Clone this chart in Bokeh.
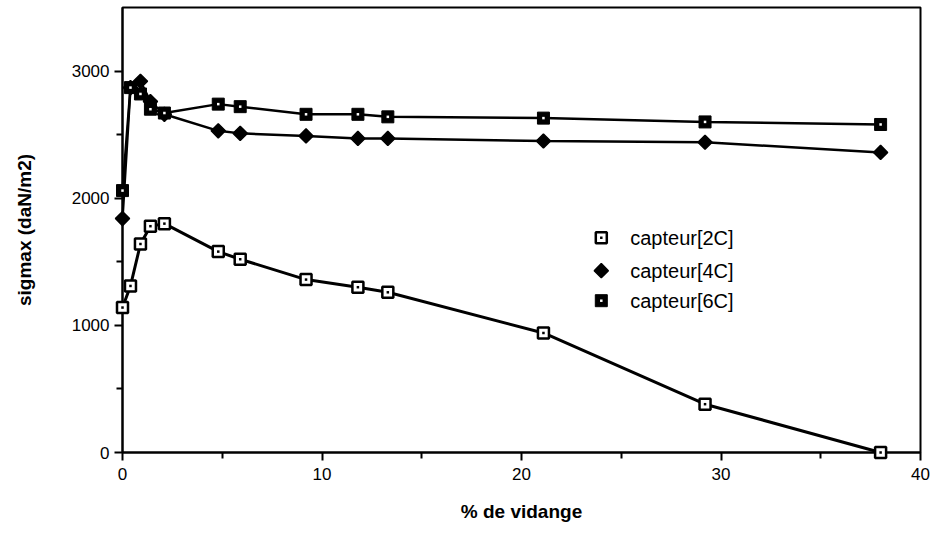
import math

from bokeh.plotting import figure
from bokeh.models import ColumnDataSource, Range1d, FixedTicker
from bokeh.core.properties import value
from bokeh.embed import file_html
from bokeh.resources import INLINE

# % of emptying (vidange) at each measurement
vidange = [0.0, 0.4, 0.9, 1.4, 2.1, 4.8, 5.9, 9.2, 11.8, 13.3, 21.1, 29.2, 38.0]

# max stress per sensor (daN/m2)
capteur_2c = [1140, 1310, 1640, 1780, 1800, 1580, 1520, 1360, 1300, 1260, 940, 380, 0]
capteur_4c = [1840, 2870, 2920, 2760, 2660, 2530, 2510, 2490, 2470, 2470, 2450, 2440, 2360]
capteur_6c = [2060, 2870, 2820, 2700, 2670, 2740, 2720, 2660, 2660, 2640, 2630, 2600, 2580]

series_labels = ["capteur[2C]", "capteur[4C]", "capteur[6C]"]

x_ticks = [0, 10, 20, 30, 40]
y_ticks = [0, 1000, 2000, 3000]

FONT = "Liberation Sans"

p = figure(width=944, height=539, output_backend="svg", toolbar_location=None,
           x_range=Range1d(0, 40), y_range=Range1d(0, 3500),
           min_border_left=122, min_border_right=24, min_border_top=7,
           min_border_bottom=87)
p.background_fill_color = "white"
p.border_fill_color = "white"
p.grid.visible = False
p.outline_line_color = "black"
p.outline_line_width = 2

p.xaxis.ticker = FixedTicker(ticks=x_ticks, minor_ticks=[5, 15, 25, 35])
p.yaxis.ticker = FixedTicker(ticks=y_ticks, minor_ticks=[500, 1500, 2500])

for ax in (p.xaxis[0], p.yaxis[0]):
    ax.axis_line_width = 2
    ax.axis_line_color = "black"
    ax.major_tick_line_width = 2
    ax.minor_tick_line_width = 2
    ax.major_tick_in = 0
    ax.major_tick_out = 8
    ax.minor_tick_in = 0
    ax.minor_tick_out = 6
    ax.major_label_text_font = FONT
    ax.major_label_text_font_size = "17px"
    ax.major_label_text_color = "black"
    ax.axis_label_text_font = FONT
    ax.axis_label_text_font_size = "19px"
    ax.axis_label_text_font_style = "bold"
    ax.axis_label_text_color = "black"

p.xaxis.major_label_standoff = 7
p.yaxis.major_label_standoff = 5
p.xaxis.axis_label = "% de vidange"
p.yaxis.axis_label = "sigmax (daN/m2)"
p.xaxis.axis_label_standoff = 18
p.yaxis.axis_label_standoff = 34

src = ColumnDataSource(dict(x=vidange, c2=capteur_2c, c4=capteur_4c, c6=capteur_6c))

DIAMOND = dict(marker="square", angle=math.pi / 4, size=10,
               fill_color="black", line_color="black", line_width=1.5)
FILLED_SQ = dict(marker="square", size=12, fill_color="black", line_color="black")
OPEN_SQ = dict(marker="square", size=11, fill_color="white",
               line_color="black", line_width=2.5)
DOT = dict(marker="square", size=2.5, line_color=None)


def draw_markers(x, y, src, kind):
    if kind == "2c":
        p.scatter(x, y, source=src, level="overlay", **OPEN_SQ)
        p.scatter(x, y, source=src, level="overlay", fill_color="black", **DOT)
    elif kind == "4c":
        p.scatter(x, y, source=src, level="overlay", **DIAMOND)
    else:
        p.scatter(x, y, source=src, level="overlay", **FILLED_SQ)
        p.scatter(x, y, source=src, level="overlay", fill_color="white", **DOT)


# connecting curves
p.line("x", "c2", source=src, line_color="black", line_width=3, level="overlay")
p.line("x", "c4", source=src, line_color="black", line_width=2.5, level="overlay")
p.line("x", "c6", source=src, line_color="black", line_width=2.5, level="overlay")

# markers on the curves
draw_markers("x", "c4", src, "4c")
draw_markers("x", "c6", src, "6c")
draw_markers("x", "c2", src, "2c")

# key, placed inside the plot area (data units)
key_x, key_text_x = 24.0, 25.45
key_rows = [1689, 1430, 1194]
for lab, ky, kind in zip(series_labels, key_rows, ["2c", "4c", "6c"]):
    ks = ColumnDataSource(dict(x=[key_x], y=[ky]))
    draw_markers("x", "y", ks, kind)
p.text(x=[key_text_x] * 3, y=key_rows, text=series_labels,
       text_font=value(FONT), text_font_size="20px", text_color="black",
       text_baseline="middle", text_align="left")

open("out.html", "w").write(file_html(p, INLINE))
